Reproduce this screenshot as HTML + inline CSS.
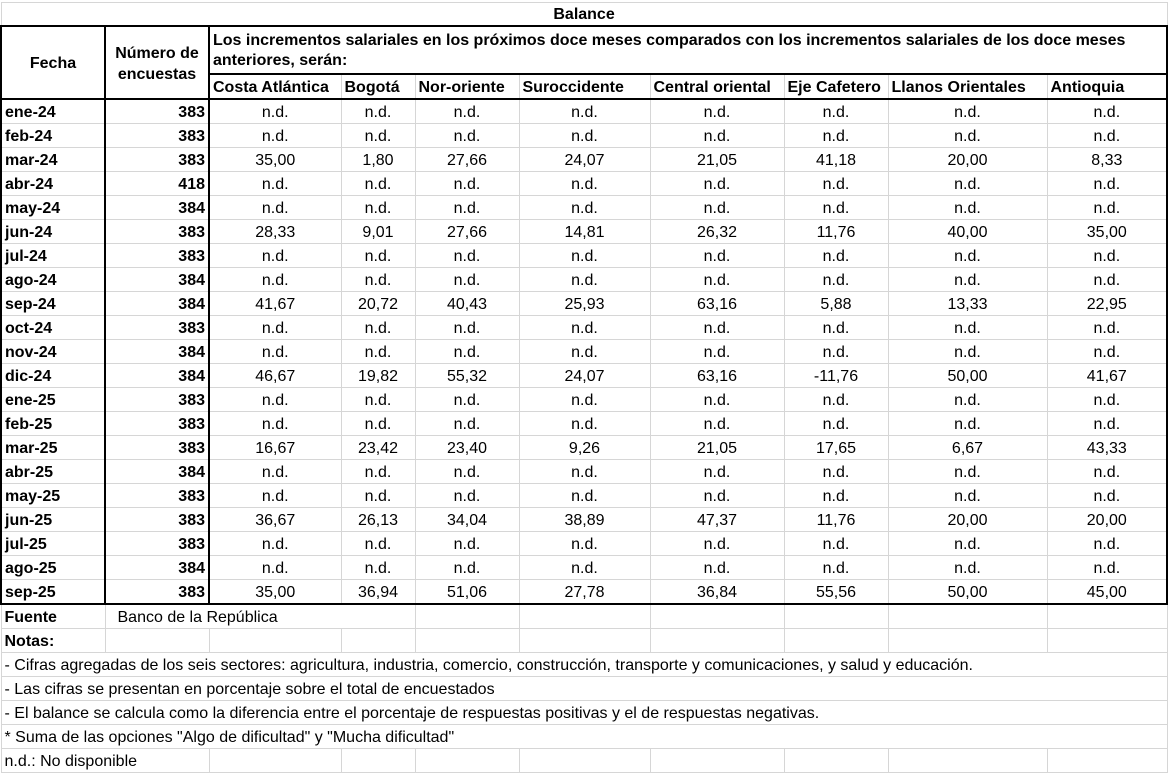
<!DOCTYPE html>
<html><head><meta charset="utf-8">
<style>
body{margin:0;background:#fff;width:1169px;height:772px;overflow:hidden;font-family:"Liberation Sans",Arial,sans-serif;font-size:16px;color:#000}
table{border-collapse:collapse;table-layout:fixed;position:absolute;left:0;top:2px;width:1169px}
td{border:1px solid #d6d6d6;padding:2px 3px 0 3px;height:21px;white-space:nowrap;overflow:visible;line-height:20px}
.b{font-weight:bold}
.c{text-align:center}
.r{text-align:right}
.T{border-top:2px solid #000}
.B{border-bottom:2px solid #000}
.L{border-left:2px solid #000}
.R{border-right:2px solid #000}
</style></head><body>
<table>
<colgroup><col style="width:104px"><col style="width:104px"><col style="width:132px"><col style="width:74px"><col style="width:104px"><col style="width:131px"><col style="width:134px"><col style="width:104px"><col style="width:159px"><col style="width:120px"><col style="width:3px"></colgroup>
<tr><td colspan="10" class="b c" style="height:19px">Balance</td><td style="border:none"></td></tr>
<tr><td rowspan="2" class="b c T L R B" style="height:68px">Fecha</td><td rowspan="2" class="b c T R B" style="line-height:21px">Número de<br>encuestas</td><td colspan="8" class="b T R" style="height:44px;line-height:20px;vertical-align:middle;border-bottom:2px solid #000">Los incrementos salariales en los próximos doce meses comparados con los incrementos salariales de los doce meses<br>anteriores, serán:</td><td style="border:none"></td></tr>
<tr class="b"><td class="B">Costa Atlántica</td><td class="B">Bogotá</td><td class="B">Nor-oriente</td><td class="B">Suroccidente</td><td class="B">Central oriental</td><td class="B">Eje Cafetero</td><td class="B">Llanos Orientales</td><td class="B R">Antioquia</td><td style="border:none"></td></tr>
<tbody id="d">
</tbody>
</table>
<script>
var rows=[
["ene-24",383],["feb-24",383],["mar-24",383,"35,00","1,80","27,66","24,07","21,05","41,18","20,00","8,33"],["abr-24",418],["may-24",384],
["jun-24",383,"28,33","9,01","27,66","14,81","26,32","11,76","40,00","35,00"],["jul-24",383],["ago-24",384],
["sep-24",384,"41,67","20,72","40,43","25,93","63,16","5,88","13,33","22,95"],["oct-24",383],["nov-24",384],
["dic-24",384,"46,67","19,82","55,32","24,07","63,16","-11,76","50,00","41,67"],["ene-25",383],["feb-25",383],
["mar-25",383,"16,67","23,42","23,40","9,26","21,05","17,65","6,67","43,33"],["abr-25",384],["may-25",383],
["jun-25",383,"36,67","26,13","34,04","38,89","47,37","11,76","20,00","20,00"],["jul-25",383],["ago-25",384],
["sep-25",383,"35,00","36,94","51,06","27,78","36,84","55,56","50,00","45,00"]];
var h="";
rows.forEach(function(r,i){
 var last=i==rows.length-1?" B":"";
 h+="<tr><td class='b L R"+last+"'>"+r[0]+"</td><td class='b r R"+last+"'>"+r[1]+"</td>";
 for(var k=0;k<8;k++){var v=r.length>2?r[2+k]:"n.d.";h+="<td class='c"+last+(k==7?" R":"")+"'>"+v+"</td>";}
 h+="<td style='border:none'></td></tr>";
});
var e="<td></td>";
h+="<tr><td class='b'>Fuente</td><td colspan='3' style='padding-left:12px'>Banco de la República</td>"+e+e+e+e+e+e+"<td style='border:none'></td></tr>";
h+="<tr><td class='b'>Notas:</td>"+e+e+e+e+e+e+e+e+e+"<td style='border:none'></td></tr>";
["- Cifras agregadas de los seis sectores: agricultura, industria, comercio, construcción, transporte y comunicaciones, y salud y educación.",
"- Las cifras se presentan en porcentaje sobre el total de encuestados",
"- El balance se calcula como la diferencia entre el porcentaje de respuestas positivas y el de respuestas negativas.",
"* Suma de las opciones \"Algo de dificultad\" y \"Mucha dificultad\""].forEach(function(t){
 h+="<tr><td colspan='10'>"+t+"</td><td style='border:none'></td></tr>";});
h+="<tr><td colspan='2'>n.d.: No disponible</td>"+e+e+e+e+e+e+e+e+"<td style='border:none'></td></tr>";
document.getElementById("d").innerHTML=h;
</script>
</body></html>
